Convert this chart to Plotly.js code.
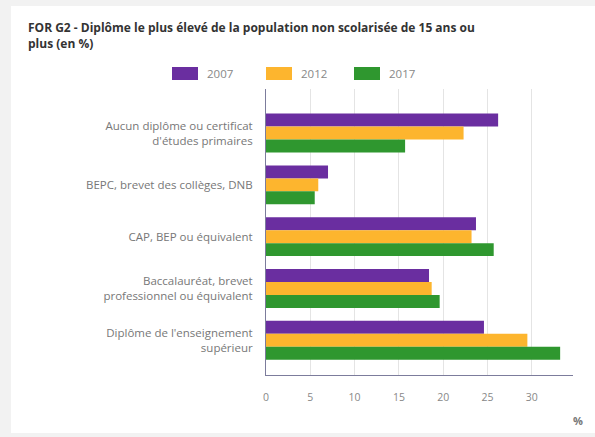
<!DOCTYPE html>
<html>
<head>
<meta charset="utf-8">
<script src="https://cdn.plot.ly/plotly-3.0.1.min.js"></script>
<style>
html,body{margin:0;padding:0;background:#f2f2f2;width:595px;height:437px;overflow:hidden;}
#chart{position:absolute;left:11px;top:6px;width:584px;height:427px;background:#fff;}
</style>
</head>
<body>
<div id="chart"></div>
<script>
const categories = [
  "Aucun diplôme ou certificat<br>d'études primaires",
  "BEPC, brevet des collèges, DNB",
  "CAP, BEP ou équivalent",
  "Baccalauréat, brevet<br>professionnel ou équivalent",
  "Diplôme de l'enseignement<br>supérieur"
];
const years = ["2007", "2012", "2017"];
const values2007 = [26.2, 7.0, 23.7, 18.4, 24.6];
const values2012 = [22.3, 5.9, 23.2, 18.7, 29.5];
const values2017 = [15.7, 5.5, 25.7, 19.6, 33.2];
const xTicks = [0, 5, 10, 15, 20, 25, 30];
const titleText = "FOR G2 - Diplôme le plus élevé de la population non scolarisée de 15 ans ou<br>plus (en %)";

const series = [values2007, values2012, values2017];
const colors = ["#6a2ea0", "#fdb52e", "#2f972f"];

const W = 584, H = 427;
const M = {l: 255, r: 22, t: 83, b: 58};
const pw = W - M.l - M.r, ph = H - M.t - M.b;
const px = x => (x - M.l) / pw;
const py = y => 1 - (y - M.t) / ph;

const traces = years.map((yr, i) => ({
  type: 'bar',
  orientation: 'h',
  name: yr,
  x: series[i],
  y: categories,
  marker: {color: colors[i]},
  hoverinfo: 'x+name'
}));

const shapes = [];
const annotations = [];
// custom legend (wide swatches)
const legendX = [161, 255, 343];
years.forEach((yr, i) => {
  const x0 = legendX[i];
  shapes.push({type: 'rect', xref: 'paper', yref: 'paper',
    x0: px(x0), x1: px(x0 + 26), y0: py(74), y1: py(61),
    fillcolor: colors[i], line: {width: 0}});
  annotations.push({xref: 'paper', yref: 'paper', x: px(x0 + 33), y: py(67.5),
    xanchor: 'left', yanchor: 'middle', showarrow: false, text: yr,
    font: {family: 'Open Sans, sans-serif', size: 11.5, color: '#888'}});
});
annotations.push({xref: 'paper', yref: 'paper', x: px(567), y: py(414),
  xanchor: 'center', yanchor: 'middle', showarrow: false, text: '<b>%</b>',
  font: {family: 'Open Sans, sans-serif', size: 11, color: '#777'}});

const layout = {
  width: W, height: H,
  margin: M,
  paper_bgcolor: '#fff',
  plot_bgcolor: '#fff',
  showlegend: false,
  barmode: 'group',
  bargap: 0.25,
  bargroupgap: 0,
  title: {
    text: '<b>' + titleText + '</b>',
    xref: 'container', x: 17 / W, xanchor: 'left',
    yref: 'container', y: 1 - 26 / H, yanchor: 'top',
    font: {family: 'Open Sans, sans-serif', size: 12, color: '#333'}
  },
  xaxis: {
    range: [0, 34.65],
    tickvals: xTicks,
    ticktext: xTicks.map(String),
    showgrid: true, gridcolor: '#e4e4e4', gridwidth: 1,
    zeroline: false,
    showline: true, linecolor: '#7c7c9c', linewidth: 1,
    ticks: '', ticklabelstandoff: 12,
    tickfont: {family: 'Open Sans, sans-serif', size: 10.5, color: '#888'},
    fixedrange: true
  },
  yaxis: {
    type: 'category',
    categoryorder: 'array', categoryarray: categories,
    range: [4.67, -0.85],
    showgrid: false, zeroline: false,
    showline: true, linecolor: '#7c7c9c', linewidth: 1,
    ticks: '', ticklabelstandoff: 10,
    tickfont: {family: 'Open Sans, sans-serif', size: 11.5, color: '#777'},
    fixedrange: true
  },
  shapes: shapes,
  annotations: annotations
};

Plotly.newPlot('chart', traces, layout, {displayModeBar: false, staticPlot: true});
</script>
</body>
</html>
